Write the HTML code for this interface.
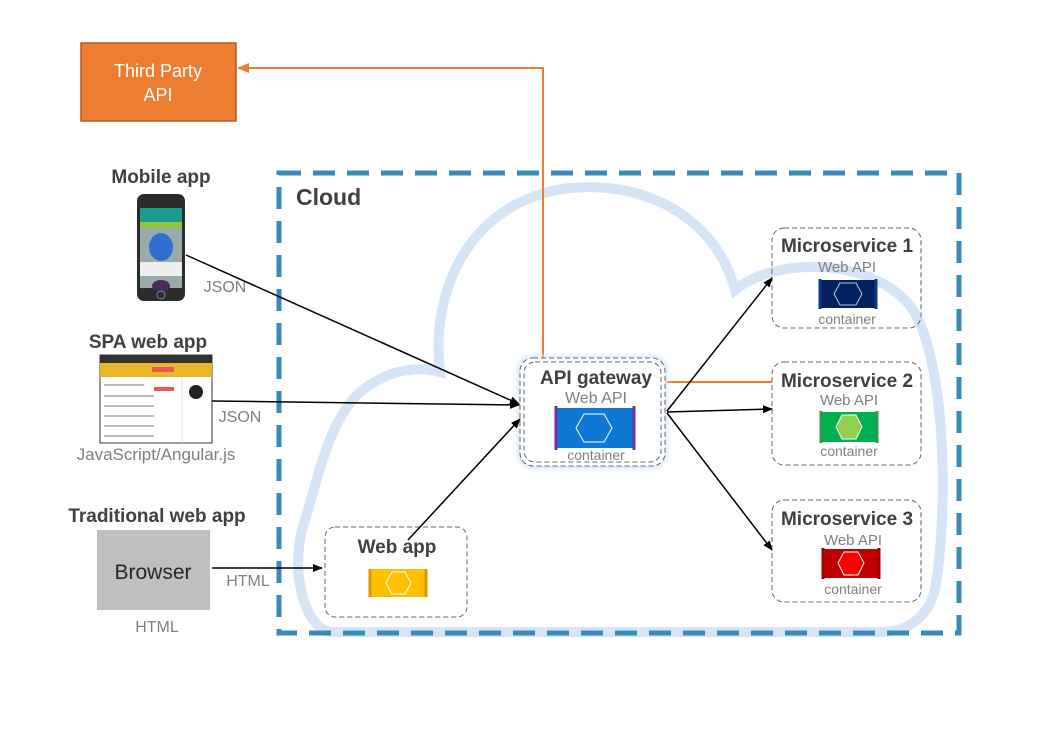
<!DOCTYPE html>
<html><head><meta charset="utf-8"><style>
body{margin:0;background:#fff}
svg{display:block;font-family:"Liberation Sans","DejaVu Sans",sans-serif}
.t{font-weight:bold;fill:#404040}
.g{fill:#7f7f7f}
</style></head><body>
<svg width="1057" height="744" viewBox="0 0 1057 744" xmlns="http://www.w3.org/2000/svg">
<defs>
<marker id="a" markerWidth="10" markerHeight="10" refX="9" refY="5" orient="auto" markerUnits="userSpaceOnUse"><path d="M0,1 L10,5 L0,9 Z" fill="#000"/></marker>
<marker id="o" markerWidth="12" markerHeight="12" refX="11" refY="6" orient="auto" markerUnits="userSpaceOnUse"><path d="M0,1 L12,6 L0,11 Z" fill="#ed7d31"/></marker>
<filter id="glow"><feGaussianBlur stdDeviation="3"/></filter>
</defs>
<path d="M330,632 C300,625 290,560 305,520 C320,470 330,420 360,392 C390,368 420,366 440,372 C430,290 470,200 570,188 C660,180 720,230 735,290 C770,260 860,255 905,300 C945,340 950,500 935,590 C925,625 900,632 880,632 Z" fill="none" stroke="#d5e5f5" stroke-width="10"/>
<rect x="279" y="173" width="680" height="460" fill="none" stroke="#3a8ab8" stroke-width="5" stroke-dasharray="22,12"/>
<text x="296" y="205" class="t" font-size="23">Cloud</text>

<rect x="81" y="43" width="155" height="78" fill="#ed7d31" stroke="#b85a1c" stroke-width="1.5"/>
<text x="158" y="77" text-anchor="middle" fill="#fff" font-size="18">Third Party</text>
<text x="158" y="101" text-anchor="middle" fill="#fff" font-size="18">API</text>
<polyline points="543,358 543,68 238,68" fill="none" stroke="#ed7d31" stroke-width="2" marker-end="url(#o)"/>
<line x1="666" y1="382" x2="772" y2="382" stroke="#ed7d31" stroke-width="2"/>

<text x="161" y="183" text-anchor="middle" class="t" font-size="19">Mobile app</text>
<rect x="137" y="194" width="48" height="107" rx="7" fill="#2b2b2b"/>
<rect x="140" y="208" width="42" height="80" fill="#9aa"/>
<rect x="140" y="208" width="42" height="14" fill="#1a9c8c"/>
<rect x="140" y="222" width="42" height="6" fill="#8dc63f"/>
<ellipse cx="161" cy="247" rx="12" ry="14" fill="#2e6fd0"/>
<rect x="140" y="262" width="42" height="14" fill="#eee"/>
<ellipse cx="161" cy="286" rx="9" ry="6" fill="#4a2a5a"/>
<circle cx="161" cy="295" r="4" fill="none" stroke="#888"/>
<text x="225" y="292" class="g" font-size="16" text-anchor="middle">JSON</text>

<text x="148" y="348" text-anchor="middle" class="t" font-size="19">SPA web app</text>
<rect x="100" y="355" width="112" height="88" fill="#fff" stroke="#333" stroke-width="1"/>
<rect x="100" y="355" width="112" height="8" fill="#333"/>
<rect x="100" y="363" width="112" height="14" fill="#e8b829"/>
<rect x="152" y="367" width="22" height="5" fill="#e55"/>
<g fill="#bbb"><rect x="104" y="384" width="40" height="2"/><rect x="104" y="395" width="50" height="2"/><rect x="104" y="405" width="50" height="2"/><rect x="104" y="415" width="50" height="2"/><rect x="104" y="425" width="50" height="2"/><rect x="104" y="435" width="50" height="2"/></g>
<rect x="154" y="387" width="20" height="4" fill="#e55"/>
<circle cx="196" cy="392" r="7" fill="#222"/>
<line x1="182" y1="378" x2="182" y2="443" stroke="#ddd"/>
<text x="156" y="460" text-anchor="middle" class="g" font-size="17">JavaScript/Angular.js</text>
<text x="240" y="422" class="g" font-size="16" text-anchor="middle">JSON</text>

<text x="157" y="522" text-anchor="middle" class="t" font-size="19">Traditional web app</text>
<rect x="97" y="530" width="113" height="80" fill="#bfbfbf"/>
<text x="153" y="579" text-anchor="middle" fill="#262626" font-size="21">Browser</text>
<text x="157" y="632" text-anchor="middle" class="g" font-size="16">HTML</text>
<text x="248" y="586" text-anchor="middle" class="g" font-size="16">HTML</text>

<rect x="325" y="527" width="142" height="90" rx="10" fill="#fff" stroke="#666" stroke-dasharray="5,3"/>
<text x="397" y="553" text-anchor="middle" class="t" font-size="19">Web app</text>
<rect x="370" y="569" width="56" height="28" fill="#ffc000"/>
<polygon points="386,583 392,572 405,572 411,583 405,594 392,594" fill="none" stroke="#fff" stroke-width="1"/>
<path d="M370,569v28M426,569v28" stroke="#d99a00" stroke-width="3"/>

<rect x="518" y="356" width="149" height="112" rx="14" fill="#cfe2f5" filter="url(#glow)"/>
<rect x="520" y="358" width="145" height="108" rx="13" fill="#fff" stroke="#666" stroke-dasharray="5,3"/>
<rect x="524" y="362" width="137" height="100" rx="11" fill="none" stroke="#666" stroke-dasharray="5,3"/>
<text x="596" y="384" text-anchor="middle" class="t" font-size="19">API gateway</text>
<text x="596" y="403" text-anchor="middle" class="g" font-size="16">Web API</text>
<rect x="556" y="408" width="78" height="40" fill="#0f78d4"/>
<polygon points="576,428 584,414 604,414 612,428 604,442 584,442" fill="none" stroke="#fff" stroke-width="1"/>
<path d="M556,406v44M634,406v44" stroke="#7030a0" stroke-width="3"/>
<text x="596" y="460" text-anchor="middle" class="g" font-size="14">container</text>

<rect x="772" y="228" width="149" height="100" rx="12" fill="none" stroke="#666" stroke-dasharray="5,3"/>
<text x="847" y="252" text-anchor="middle" class="t" font-size="19">Microservice 1</text>
<text x="847" y="272" text-anchor="middle" class="g" font-size="15">Web API</text>
<rect x="820" y="280" width="56" height="28" fill="#002060"/>
<polygon points="834,294 840,283 856,283 862,294 856,305 840,305" fill="none" stroke="#bcd" stroke-width="1"/>
<path d="M820,279v30M876,279v30" stroke="#0b3a8a" stroke-width="3"/>
<text x="847" y="324" text-anchor="middle" class="g" font-size="14">container</text>

<rect x="772" y="362" width="149" height="103" rx="12" fill="none" stroke="#666" stroke-dasharray="5,3"/>
<text x="847" y="387" text-anchor="middle" class="t" font-size="19">Microservice 2</text>
<text x="849" y="405" text-anchor="middle" class="g" font-size="15">Web API</text>
<rect x="821" y="412" width="56" height="30" fill="#00b050"/>
<polygon points="836,427 842,415 856,415 862,427 856,439 842,439" fill="#92d050" stroke="#fff" stroke-width="1"/>
<path d="M821,411v32M877,411v32" stroke="#2c9a4a" stroke-width="3"/>
<text x="849" y="456" text-anchor="middle" class="g" font-size="14">container</text>

<rect x="772" y="500" width="149" height="102" rx="12" fill="none" stroke="#666" stroke-dasharray="5,3"/>
<text x="847" y="525" text-anchor="middle" class="t" font-size="19">Microservice 3</text>
<text x="853" y="545" text-anchor="middle" class="g" font-size="15">Web API</text>
<rect x="823" y="549" width="56" height="29" fill="#c00000"/>
<polygon points="838,563 844,552 858,552 864,563 858,575 844,575" fill="#ff0000" stroke="#fff" stroke-width="1"/>
<path d="M823,548v31M879,548v31" stroke="#a00000" stroke-width="3"/>
<text x="853" y="594" text-anchor="middle" class="g" font-size="14">container</text>

<g stroke="#000" stroke-width="1.5" fill="none">
<line x1="186" y1="255" x2="519" y2="404" marker-end="url(#a)"/>
<line x1="212" y1="401" x2="519" y2="405" marker-end="url(#a)"/>
<line x1="212" y1="568" x2="322" y2="568" marker-end="url(#a)"/>
<line x1="408" y1="540" x2="520" y2="419" marker-end="url(#a)"/>
<line x1="667" y1="411" x2="772" y2="278" marker-end="url(#a)"/>
<line x1="667" y1="412" x2="772" y2="409" marker-end="url(#a)"/>
<line x1="667" y1="413" x2="772" y2="550" marker-end="url(#a)"/>
</g>
</svg>
</body></html>
